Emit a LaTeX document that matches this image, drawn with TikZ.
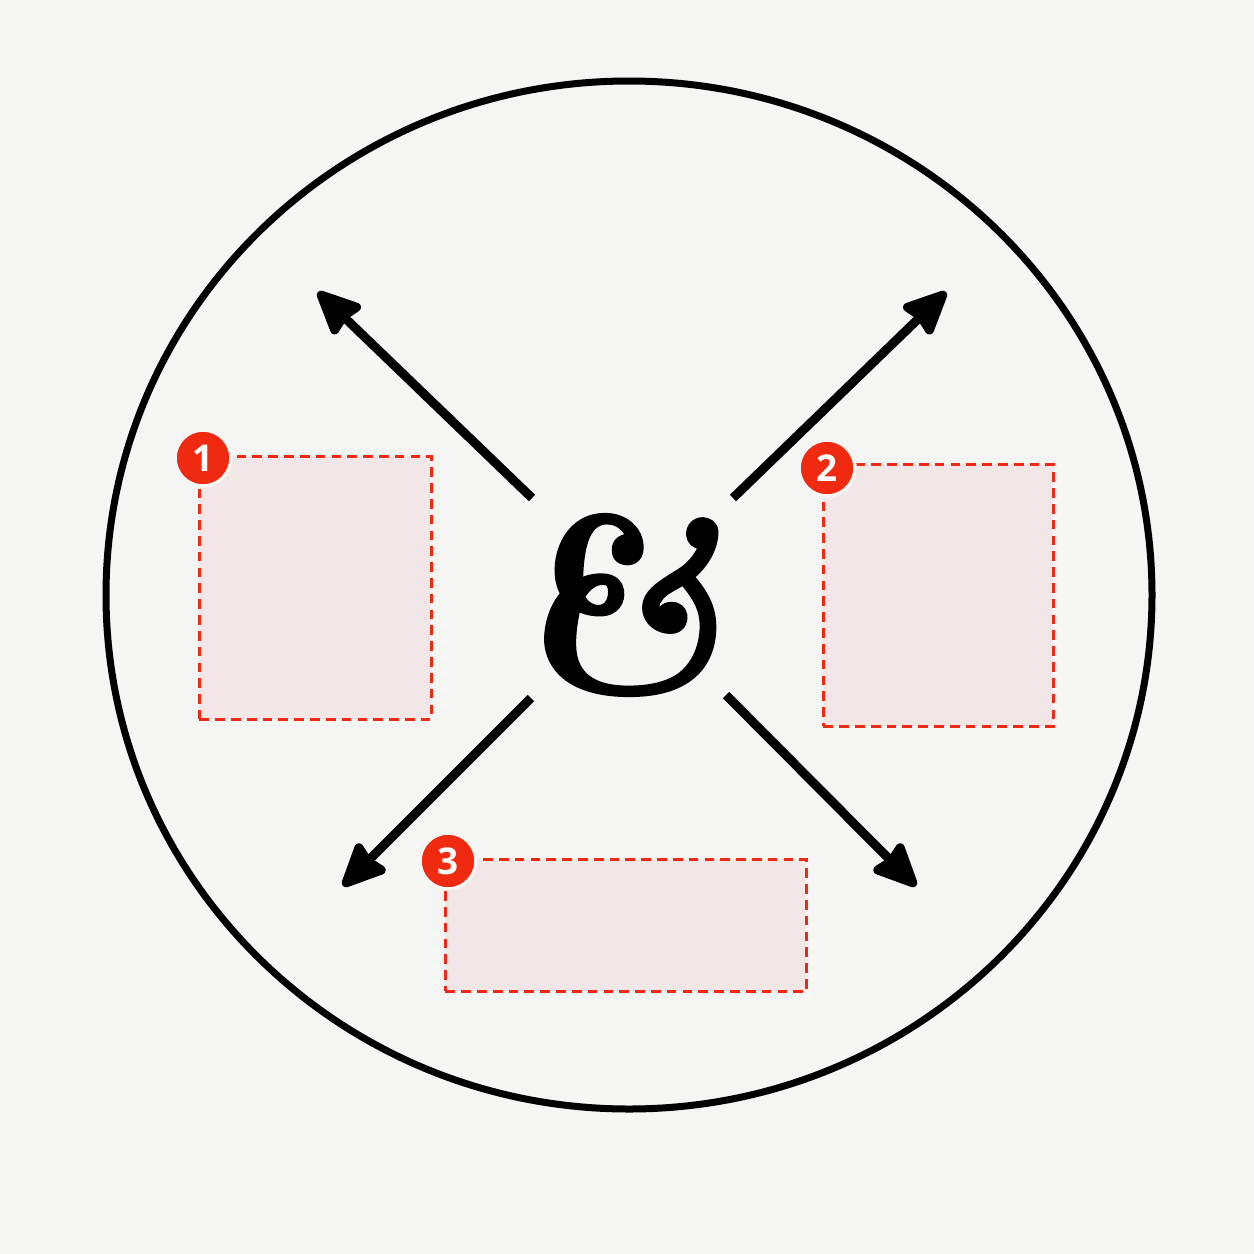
\documentclass[tikz,border=0pt]{standalone}
\usepackage{fontspec}
\newfontfamily\badgefont{Open Sans}
\newfontfamily\ampfont{lmroman10-bolditalic.otf}[FakeBold=1]
\usetikzlibrary{arrows.meta}
\definecolor{paper}{RGB}{245,245,244}
\definecolor{markred}{RGB}{240,42,16}
\definecolor{zonepink}{RGB}{242,230,230}
\tikzset{
  zone/.style={draw=markred, dash pattern=on 5.5pt off 3.5pt, line width=1.6pt,
    fill=zonepink, anchor=north west, inner sep=0pt},
  badge/.style={circle, fill=markred, draw=paper, line width=2pt, text=white,
    minimum size=1.12cm, inner sep=0pt, font=\badgefont\bfseries\fontsize{21}{21}\selectfont},
  spread/.style={line width=0.18cm, -{Stealth[length=1cm, width=0.9cm, inset=0.08cm, round]}},
}
\begin{document}
\begin{tikzpicture}
  % Paper background.
  \fill[paper] (0, 0) rectangle (25.08, -25.08);
  % Outer ring.
  \draw[line width=0.14cm] (12.58, -11.9) ellipse (10.46 and 10.28);
  % The ampersand in the middle.
  \node[xslant=-0.15] (amp) at (12.3, -12.1) {\ampfont\fontsize{142}{142}\selectfont\&};
  % Ends of the arrows.
  \coordinate (nwstart) at (10.64, -9.96);
  \coordinate (nwtip) at (6.36, -5.84);
  \coordinate (nestart) at (14.66, -9.96);
  \coordinate (netip) at (18.92, -5.84);
  \coordinate (swstart) at (10.62, -13.96);
  \coordinate (swtip) at (6.86, -17.72);
  \coordinate (sestart) at (14.52, -13.9);
  \coordinate (setip) at (18.32, -17.72);
  \draw[spread] (nwstart) -- (nwtip);
  \draw[spread] (nestart) -- (netip);
  \draw[spread] (swstart) -- (swtip);
  \draw[spread] (sestart) -- (setip);
  % The three marked zones.
  \node[zone, minimum width=4.64cm, minimum height=5.26cm] (zone1) at (3.96, -9.1) {};
  \node[zone, minimum width=4.6cm, minimum height=5.24cm] (zone2) at (16.44, -9.26) {};
  \node[zone, minimum width=7.22cm, minimum height=2.64cm] (zone3) at (8.88, -17.16) {};
  % Numbered badges on the corners.
  \node[badge] (badge1) at ([shift={(0.1, -0.06)}]zone1.north west) {1};
  \node[badge] (badge2) at ([shift={(0.1, -0.1)}]zone2.north west) {2};
  \node[badge] (badge3) at ([shift={(0.08, -0.06)}]zone3.north west) {3};
\end{tikzpicture}
\end{document}
